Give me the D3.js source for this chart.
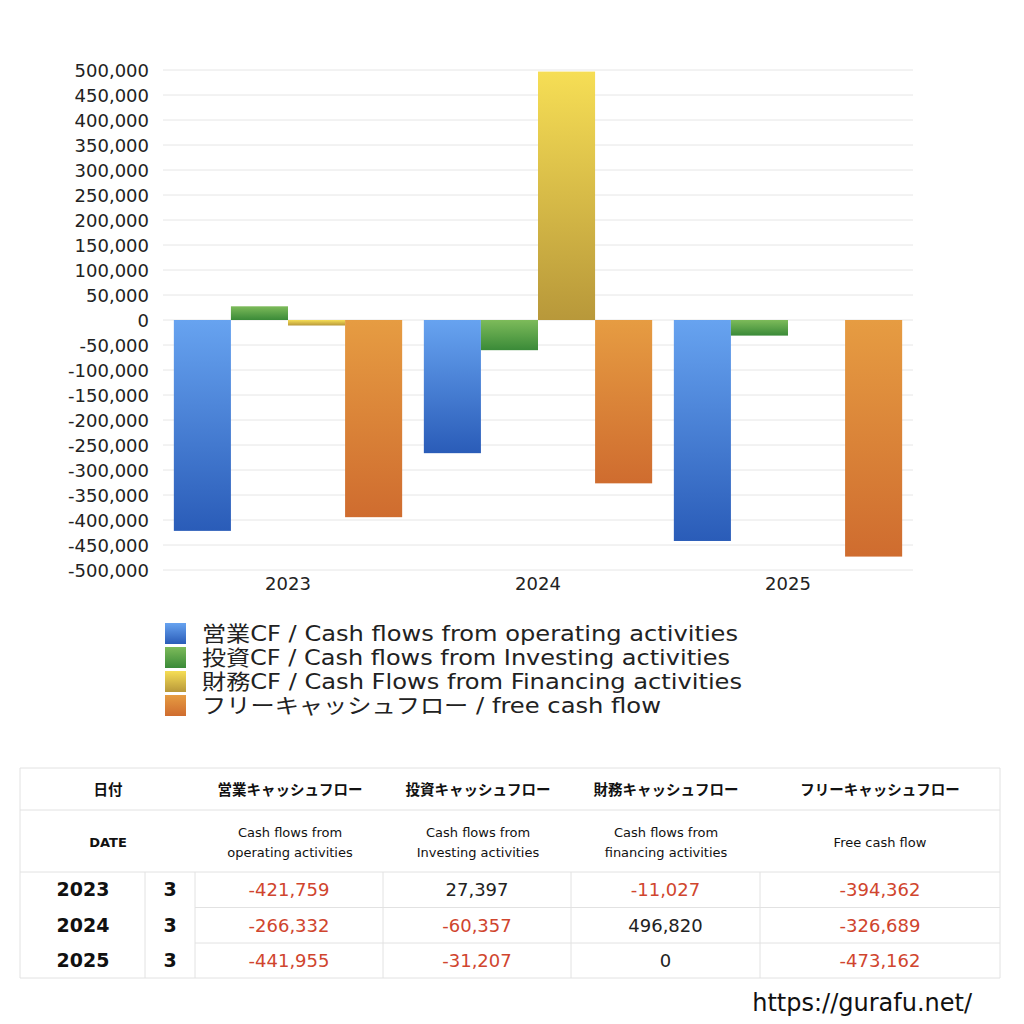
<!DOCTYPE html>
<html>
<head>
<meta charset="utf-8">
<script src="https://cdn.jsdelivr.net/npm/d3@7"></script>
<style>
  body { margin: 0; background: #fff; }
  svg { display: block; }
</style>
</head>
<body>
<svg id="chart" width="1024" height="1024"></svg>
<script>
var years = ['2023', '2024', '2025']
var months = ['3', '3', '3']
var seriesKeys = ['op', 'inv', 'fin', 'free']
var operating = [-421759, -266332, -441955]
var investing = [27397, -60357, -31207]
var financing = [-11027, 496820, 0]
var freeCF = [-394362, -326689, -473162]
var legendLabels = [
  '営業CF / Cash flows from operating activities',
  '投資CF / Cash flows from Investing activities',
  '財務CF / Cash Flows from Financing activities',
  'フリーキャッシュフロー / free cash flow'
]
var headJa = ['営業キャッシュフロー', '投資キャッシュフロー', '財務キャッシュフロー', 'フリーキャッシュフロー']
var headEn = [['Cash flows from', 'operating activities'], ['Cash flows from', 'Investing activities'],
  ['Cash flows from', 'financing activities'], ['Free cash flow']]
var yTicks = d3.range(-500000, 500001, 50000)

var gradColors = [['#67a3f0', '#2a5cb8'], ['#7dbb5a', '#3a8a38'], ['#f6de55', '#b8983a'], ['#e69c42', '#cf6c2f']]

var svg = d3.select('#chart')
var font = '"DejaVu Sans", "Noto Sans CJK JP", sans-serif'
var fmt = function (v) { return d3.format(',')(v).replace('\u2212', '-') }

var defs = svg.append('defs')
gradColors.forEach(function (c, i) {
  var g = defs.append('linearGradient').attr('id', 'g' + i)
    .attr('x1', 0).attr('y1', 0).attr('x2', 0).attr('y2', 1)
  g.append('stop').attr('offset', '0%').attr('stop-color', c[0])
  g.append('stop').attr('offset', '100%').attr('stop-color', c[1])
})

var data = years.map(function (y, i) {
  return { year: y, values: [operating[i], investing[i], financing[i], freeCF[i]] }
})

var x0 = d3.scaleBand().domain(years).range([163, 913])
var x1 = d3.scaleBand().domain(seriesKeys).range([0, x0.bandwidth()]).paddingOuter(0.19)
var y = d3.scaleLinear().domain([-500000, 500000]).range([570, 70])

// grid
svg.append('g').selectAll('line').data(yTicks).enter().append('line')
  .attr('x1', 163).attr('x2', 913)
  .attr('y1', d => y(d)).attr('y2', d => y(d))
  .attr('stroke', '#e6e6e6').attr('stroke-width', 1)

// y axis labels
var yAxis = d3.axisLeft(y).tickValues(yTicks).tickSize(0).tickPadding(0)
  .tickFormat(fmt)
var ya = svg.append('g').attr('transform', 'translate(149,0)').call(yAxis)
ya.select('.domain').remove()
ya.selectAll('text').attr('font-family', font).attr('font-size', 18).attr('fill', '#222')
  .attr('dy', '0.35em')

// x axis labels
var xa = svg.append('g').attr('transform', 'translate(0,573)').call(d3.axisBottom(x0).tickSize(0).tickPadding(4))
xa.select('.domain').remove()
xa.selectAll('text').attr('font-family', font).attr('font-size', 18).attr('fill', '#222')

// bars
svg.append('g').selectAll('g').data(data).enter().append('g')
  .attr('transform', d => 'translate(' + x0(d.year) + ',0)')
  .selectAll('rect')
  .data(d => d.values.map((v, i) => ({ key: seriesKeys[i], v: v, i: i })))
  .enter().append('rect')
  .attr('x', d => x1(d.key))
  .attr('width', x1.bandwidth())
  .attr('y', d => y(Math.max(0, d.v)))
  .attr('height', d => Math.abs(y(d.v) - y(0)))
  .attr('fill', d => 'url(#g' + d.i + ')')

// legend
var legendWidths = [536, 528, 540, 459]
var lg = svg.append('g').selectAll('g').data(legendLabels).enter().append('g')
  .attr('transform', (d, i) => 'translate(165,' + (623 + i * 24) + ')')
lg.append('rect').attr('width', 21).attr('height', 21).attr('fill', (d, i) => 'url(#g' + i + ')')
lg.append('text').attr('x', 37).attr('y', 11).attr('dy', '0.35em')
  .attr('font-family', font).attr('font-size', 21).attr('fill', '#222')
  .attr('textLength', (d, i) => legendWidths[i]).attr('lengthAdjust', 'spacingAndGlyphs')
  .text(d => d)

// table
var tb = svg.append('g')
var colX = [20, 145, 195, 383, 571, 760, 1000]
var rowY = [768, 810, 872, 907.5, 943, 978]
var lineColor = '#e2e2e2'
function hline(x1v, x2v, yv) {
  tb.append('line').attr('x1', x1v).attr('x2', x2v).attr('y1', yv).attr('y2', yv)
    .attr('stroke', lineColor)
}
function vline(xv, y1v, y2v) {
  tb.append('line').attr('x1', xv).attr('x2', xv).attr('y1', y1v).attr('y2', y2v)
    .attr('stroke', lineColor)
}
hline(20, 1000, rowY[0])
hline(20, 1000, rowY[1])
hline(20, 1000, rowY[2])
hline(195, 1000, rowY[3])
hline(195, 1000, rowY[4])
hline(20, 1000, rowY[5])
vline(1000, rowY[0], rowY[5])
vline(20, rowY[0], rowY[5])
colX.slice(1, 6).forEach(function (cx) { vline(cx, rowY[2], rowY[5]) })

var headCenters = [290, 478, 666, 880]
tb.append('text').attr('x', 108).attr('y', 790).attr('dy', '0.35em').attr('text-anchor', 'middle')
  .attr('font-family', font).attr('font-size', 14.5).attr('font-weight', 'bold').attr('fill', '#111').text('日付')
tb.append('text').attr('x', 108).attr('y', 842).attr('dy', '0.35em').attr('text-anchor', 'middle')
  .attr('font-family', font).attr('font-size', 13).attr('font-weight', 'bold').attr('fill', '#111').text('DATE')
headJa.forEach(function (h, i) {
  tb.append('text').attr('x', headCenters[i]).attr('y', 790).attr('dy', '0.35em').attr('text-anchor', 'middle')
    .attr('font-family', font).attr('font-size', 14.5).attr('font-weight', 'bold').attr('fill', '#111').text(h)
})
headEn.forEach(function (lines, i) {
  lines.forEach(function (t, j) {
    var yy = lines.length === 1 ? 842 : 832 + j * 20
    tb.append('text').attr('x', headCenters[i]).attr('y', yy).attr('dy', '0.35em').attr('text-anchor', 'middle')
      .attr('font-family', font).attr('font-size', 13).attr('fill', '#111').text(t)
  })
})

data.forEach(function (d, r) {
  var cy = (rowY[r + 2] + rowY[r + 3]) / 2
  tb.append('text').attr('x', 83).attr('y', cy).attr('dy', '0.35em').attr('text-anchor', 'middle')
    .attr('font-family', font).attr('font-size', 19).attr('font-weight', 'bold').attr('fill', '#111').text(d.year)
  tb.append('text').attr('x', 170).attr('y', cy).attr('dy', '0.35em').attr('text-anchor', 'middle')
    .attr('font-family', font).attr('font-size', 19).attr('font-weight', 'bold').attr('fill', '#111').text(months[r])
  d.values.forEach(function (v, c) {
    tb.append('text').attr('x', (colX[c + 2] + colX[c + 3]) / 2).attr('y', cy).attr('dy', '0.35em')
      .attr('text-anchor', 'middle').attr('font-family', font).attr('font-size', 18)
      .attr('fill', v < 0 ? '#d0452e' : '#222').text(fmt(v))
  })
})

svg.append('text').attr('x', 972).attr('y', 1003).attr('dy', '0.35em').attr('text-anchor', 'end')
  .attr('font-family', font).attr('font-size', 24).attr('fill', '#111')
  .text('https://gurafu.net/')
</script>
</body>
</html>
